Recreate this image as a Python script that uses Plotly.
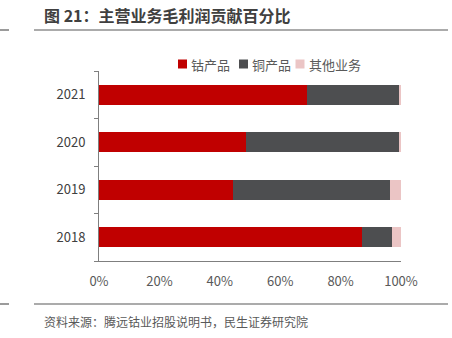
import plotly.graph_objects as go

years = ["2018", "2019", "2020", "2021"]
cobalt = [87.0, 44.5, 48.7, 68.8]
copper = [10.1, 51.7, 50.6, 30.7]
other = [2.9, 3.8, 0.7, 0.5]

series_names = ["钴产品", "铜产品", "其他业务"]
series_colors = ["#C00000", "#4D4E50", "#EBC5C5"]

FONT = "Noto Sans CJK SC, Noto Sans, sans-serif"

W, H = 452, 338
ML, MR, MT, MB = 99, 51, 71, 77
PW, PH = W - ML - MR, H - MT - MB


def px_x(px):
    return (px - ML) / PW


def px_y(py):
    return (H - MB - py) / PH


fig = go.Figure()
for name, vals, col in zip(series_names, [cobalt, copper, other], series_colors):
    fig.add_trace(go.Bar(
        y=years, x=vals, name=name, orientation="h",
        marker=dict(color=col, line=dict(width=0)),
        showlegend=False,
    ))

fig.update_layout(
    width=W, height=H,
    margin=dict(l=ML, r=MR, t=MT, b=MB),
    barmode="stack",
    bargap=0.58,
    plot_bgcolor="white",
    paper_bgcolor="white",
    font=dict(family=FONT, size=13, color="#404040"),
    xaxis=dict(
        range=[0, 100], tickvals=[0, 20, 40, 60, 80, 100],
        ticktext=["0%", "20%", "40%", "60%", "80%", "100%"],
        showgrid=False, zeroline=False, showline=True, linecolor="#7F7F7F",
        linewidth=1, ticks="", tickfont=dict(size=13, color="#595959"),
        ticklabelstandoff=8, fixedrange=True,
    ),
    yaxis=dict(
        categoryorder="array", categoryarray=years,
        showgrid=False, showline=True, linecolor="#7F7F7F", linewidth=1,
        ticks="outside", tickson="boundaries", ticklen=4, tickcolor="#7F7F7F",
        tickfont=dict(size=13, color="#404040"), ticklabelstandoff=10,
    ),
)

# Compact legend row: small swatch followed closely by the series name
legend_swatch_x = [182.5, 243.5, 300.0]
legend_y = 64
for name, col, sx in zip(series_names, series_colors, legend_swatch_x):
    fig.add_shape(type="rect", xref="paper", yref="paper",
                  x0=px_x(sx - 4.5), x1=px_x(sx + 4.5),
                  y0=px_y(legend_y + 4.5), y1=px_y(legend_y - 4.5),
                  fillcolor=col, line=dict(width=0))
    fig.add_annotation(text=name, xref="paper", yref="paper",
                       x=px_x(sx + 6.5), y=px_y(legend_y),
                       xanchor="left", yanchor="middle", showarrow=False,
                       font=dict(family=FONT, size=13, color="#595959"))

# Header: title with rules above and below the figure body
fig.add_annotation(
    text="<b>图 21：主营业务毛利润贡献百分比</b>",
    xref="paper", yref="paper", x=px_x(42), y=px_y(15),
    xanchor="left", yanchor="middle", showarrow=False,
    font=dict(family=FONT, size=16, color="#404040"),
)
fig.add_annotation(
    text="资料来源：腾远钴业招股说明书，民生证券研究院",
    xref="paper", yref="paper", x=px_x(42), y=px_y(321),
    xanchor="left", yanchor="middle", showarrow=False,
    font=dict(family=FONT, size=12, color="#595959"),
)
for y in (30, 304):
    fig.add_shape(type="line", xref="paper", yref="paper",
                  x0=px_x(0), x1=px_x(9), y0=px_y(y), y1=px_y(y),
                  line=dict(color="#595959", width=1.2))
    fig.add_shape(type="line", xref="paper", yref="paper",
                  x0=px_x(34), x1=px_x(448), y0=px_y(y), y1=px_y(y),
                  line=dict(color="#595959", width=1.2))

fig.write_html("out.html")
